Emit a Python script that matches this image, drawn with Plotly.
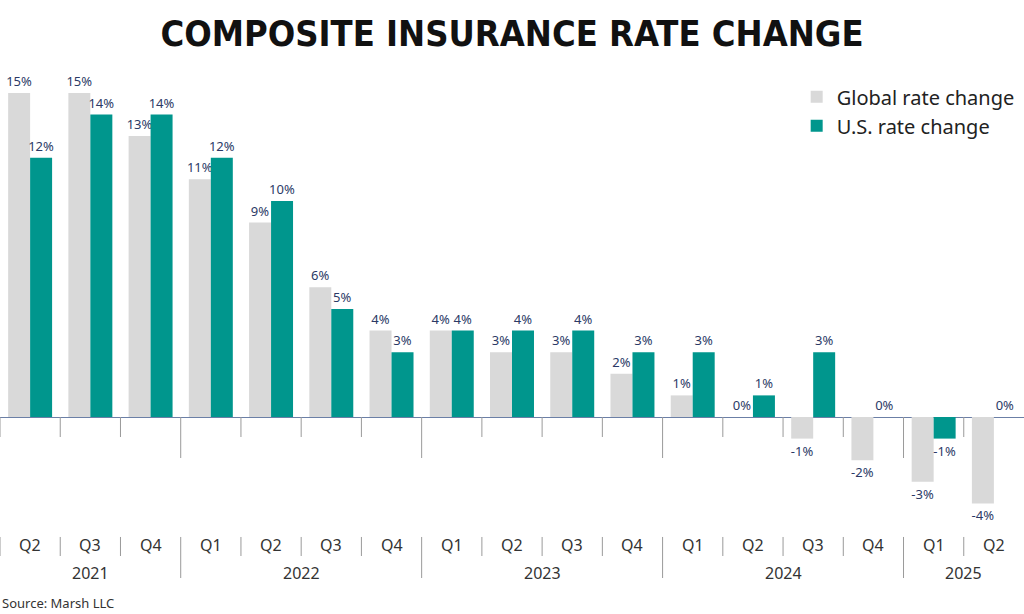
import plotly.graph_objects as go

quarters = ["Q2", "Q3", "Q4", "Q1", "Q2", "Q3", "Q4", "Q1", "Q2", "Q3", "Q4",
            "Q1", "Q2", "Q3", "Q4", "Q1", "Q2"]
years = ["2021", "2021", "2021", "2022", "2022", "2022", "2022", "2023", "2023", "2023", "2023",
         "2024", "2024", "2024", "2024", "2025", "2025"]
global_rate = [15, 15, 13, 11, 9, 6, 4, 4, 3, 3, 2, 1, 0, -1, -2, -3, -4]
us_rate = [12, 14, 14, 12, 10, 5, 3, 4, 4, 4, 3, 3, 1, 3, 0, -1, 0]

x_idx = list(range(len(quarters)))
BODY = "Noto Sans"
LABEL_COLOR = "#2b3a66"

fig = go.Figure()
fig.add_trace(go.Bar(
    x=x_idx, y=global_rate, name="Global rate change",
    marker=dict(color="#d9d9d9", line=dict(width=0)),
    text=[f"{v}%" for v in global_rate], textposition="outside",
    constraintext="none", cliponaxis=False,
    textfont=dict(family=BODY, size=13, color=LABEL_COLOR),
))
fig.add_trace(go.Bar(
    x=x_idx, y=us_rate, name="U.S. rate change",
    marker=dict(color="#00968d", line=dict(width=0)),
    text=[f"{v}%" for v in us_rate], textposition="outside",
    constraintext="none", cliponaxis=False,
    textfont=dict(family=BODY, size=13, color=LABEL_COLOR),
))

shapes = []
annotations = []
n = len(quarters)
for i in range(n):
    bx = i - 0.5
    is_year = i > 0 and years[i] != years[i - 1]
    shapes.append(dict(type="line", xref="x", yref="y", ysizemode="pixel", yanchor=0,
                       x0=bx, x1=bx, y0=0, y1=-41 if is_year else -20,
                       line=dict(color="#9a9a9a", width=1)))
    shapes.append(dict(type="line", xref="x", yref="paper",
                       x0=bx, x1=bx, y0=0.0415 if is_year else 0.083, y1=0.1189,
                       line=dict(color="#9a9a9a", width=1)))
for i, q in enumerate(quarters):
    annotations.append(dict(x=i, y=0.1038, xref="x", yref="paper", text=q, showarrow=False,
                            font=dict(family=BODY, size=16, color="#333333"),
                            xanchor="center", yanchor="middle"))
seen = []
for y in years:
    if y not in seen:
        seen.append(y)
for y in seen:
    idxs = [i for i, yy in enumerate(years) if yy == y]
    cx = (idxs[0] + idxs[-1]) / 2
    annotations.append(dict(x=cx, y=0.051, xref="x", yref="paper", text=y, showarrow=False,
                            font=dict(family=BODY, size=16, color="#333333"),
                            xanchor="center", yanchor="middle"))
annotations.append(dict(x=0, y=-0.0057, xref="paper", yref="paper", text="Source: Marsh LLC",
                        showarrow=False, font=dict(family=BODY, size=13, color="#333333"),
                        xanchor="left", yanchor="middle"))

fig.update_layout(
    width=1024, height=614,
    margin=dict(l=0, r=0, t=70, b=14),
    paper_bgcolor="white", plot_bgcolor="white",
    barmode="group", bargap=0.27, bargroupgap=0,
    title=dict(text="<b>COMPOSITE INSURANCE RATE CHANGE</b>", x=0.5, xanchor="center",
               y=0.946, yanchor="middle", yref="container",
               font=dict(family="DejaVu Sans Condensed", size=36, color="#111111")),
    xaxis=dict(range=[-0.5, n - 0.5], showticklabels=False, showgrid=False, zeroline=False,
               showline=False, ticks=""),
    yaxis=dict(range=[-8.47, 16.06], showticklabels=False, showgrid=False, zeroline=True,
               zerolinecolor="#6b7fa6", zerolinewidth=1, showline=False, ticks=""),
    legend=dict(x=0.778, xanchor="left", y=0.9864, yanchor="top",
                font=dict(family=BODY, size=20, color="#222222"),
                bgcolor="rgba(0,0,0,0)", itemsizing="constant", tracegroupgap=0),
    showlegend=True,
    shapes=shapes, annotations=annotations,
)

fig.write_html("out.html", config={"displayModeBar": False},
               post_script="document.body.style.margin='0';document.body.style.overflow='hidden';"
                           "document.documentElement.style.overflow='hidden';")
